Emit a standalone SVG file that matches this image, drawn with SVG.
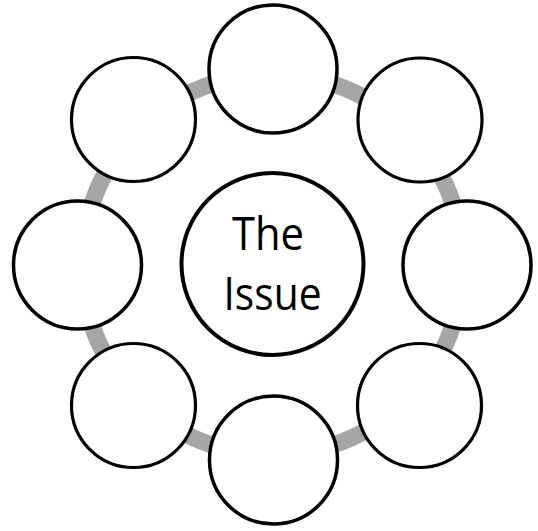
<svg xmlns="http://www.w3.org/2000/svg" width="538" height="531" viewBox="0 0 538 531">
<style>
.n{fill:#fff;stroke:#000;stroke-width:3.5}
.d{fill:#fff;stroke:#000;stroke-width:3.2}
.t{font-family:"Open Sans","Noto Sans",sans-serif;font-size:45px;fill:#000;text-anchor:middle}
</style>
<rect width="538" height="531" fill="#fff"/>
<g id="connectors">
<circle cx="272.5" cy="264.5" r="190.5" fill="none" stroke="#a6a6a6" stroke-width="17"/>
</g>
<g id="node-top"><circle class="n" cx="273" cy="69" r="64"/></g>
<g id="node-top-right"><circle class="d" cx="420" cy="120" r="62"/></g>
<g id="node-right"><circle class="n" cx="467" cy="265" r="64"/></g>
<g id="node-bottom-right"><circle class="d" cx="419.5" cy="405.5" r="62"/></g>
<g id="node-bottom"><circle class="n" cx="273.5" cy="460" r="64"/></g>
<g id="node-bottom-left"><circle class="d" cx="133.5" cy="405.5" r="62"/></g>
<g id="node-left"><circle class="n" cx="77.5" cy="265" r="64"/></g>
<g id="node-top-left"><circle class="d" cx="133.5" cy="119.5" r="62"/></g>
<g id="node-center">
<circle cx="272.5" cy="264" r="91" fill="#fff" stroke="#000" stroke-width="4"/>
<text class="t" x="268" y="250" textLength="72" lengthAdjust="spacingAndGlyphs">The</text>
<text class="t" x="272.5" y="310" textLength="98" lengthAdjust="spacingAndGlyphs">Issue</text>
</g>
</svg>
